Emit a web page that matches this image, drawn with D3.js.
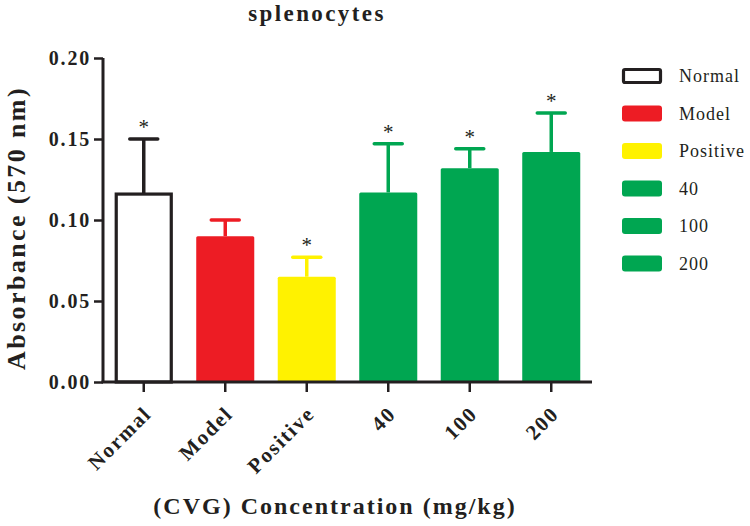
<!DOCTYPE html>
<html>
<head>
<meta charset="utf-8">
<script src="https://cdn.jsdelivr.net/npm/d3@7"></script>
<style>
  html, body { margin: 0; padding: 0; background: #fff; }
  svg { display: block; font-family: "Liberation Serif", "Times New Roman", serif; }
</style>
</head>
<body>
<svg id="chart" width="750" height="526"></svg>
<script>
const categories = ["Normal", "Model", "Positive", "40", "100", "200"];
const means = [0.116, 0.090, 0.065, 0.117, 0.132, 0.142];
const errUpper = [0.150, 0.100, 0.077, 0.147, 0.144, 0.166];
const significant = [true, false, true, true, true, true];
const fills = ["#ffffff", "#ED1C24", "#FFF200", "#00A651", "#00A651", "#00A651"];
const errColors = ["#231f20", "#ED1C24", "#FFF200", "#00A651", "#00A651", "#00A651"];
const yTicks = [0.00, 0.05, 0.10, 0.15, 0.20];
const chartTitle = "splenocytes";
const yTitle = "Absorbance (570 nm)";
const xTitle = "(CVG) Concentration (mg/kg)";

(function () {
const svg = d3.select("#chart");
const ink = "#231f20";
const mLeft = 103, mRight = 592, mTop = 58, mBottom = 382;

const x = d3.scaleBand().domain(categories).range([mLeft, mRight])
  .paddingInner(0.288).paddingOuter(0.144);
const y = d3.scaleLinear().domain([0, 0.20]).range([mBottom, mTop]);

// Title
svg.append("text").attr("x", 317).attr("y", 21)
  .attr("text-anchor", "middle").attr("font-size", 23).attr("font-weight", "bold")
  .attr("letter-spacing", 2.4).attr("fill", ink).text(chartTitle);

const data = categories.map((c, i) => ({c, v: means[i], e: errUpper[i], s: significant[i], i}));
const g = svg.append("g");

// error bars
data.forEach(d => {
  const cx = x(d.c) + x.bandwidth() / 2;
  g.append("line").attr("x1", cx).attr("x2", cx).attr("y1", y(d.v)).attr("y2", y(d.e))
    .attr("stroke", errColors[d.i]).attr("stroke-width", 3.5);
  g.append("line").attr("x1", cx - 14).attr("x2", cx + 14).attr("y1", y(d.e)).attr("y2", y(d.e))
    .attr("stroke", errColors[d.i]).attr("stroke-width", 3.5).attr("stroke-linecap", "round");
  if (d.s) {
    g.append("text").attr("x", cx).attr("y", y(d.e) - 5)
      .attr("text-anchor", "middle").attr("font-size", 21).attr("fill", ink).text("*");
  }
});

// bars
data.forEach(d => {
  const isOutline = d.i === 0;
  const inset = isOutline ? 1.5 : 0;
  g.append("rect")
    .attr("x", x(d.c) + inset).attr("width", x.bandwidth() - 2 * inset)
    .attr("y", y(d.v)).attr("height", y(0) - y(d.v))
    .attr("fill", fills[d.i])
    .attr("stroke", isOutline ? ink : "none")
    .attr("stroke-width", isOutline ? 3.2 : 0)
    .attr("rx", isOutline ? 0 : 1.5);
});

// Y axis
const yAxis = svg.append("g").attr("transform", `translate(${mLeft},0)`)
  .call(d3.axisLeft(y).tickValues(yTicks).tickFormat(d3.format(".2f")).tickSize(9).tickPadding(3));
yAxis.select(".domain").attr("d", `M0,${mTop}H0V${mBottom}`).attr("stroke", ink).attr("stroke-width", 3);
yAxis.selectAll(".tick line").attr("stroke", ink).attr("stroke-width", 2.5);
yAxis.selectAll(".tick text").attr("font-size", 20).attr("font-weight", "bold")
  .attr("letter-spacing", 1.8).attr("fill", ink).attr("font-family", "Liberation Serif, serif");

// X axis
const xAxis = svg.append("g").attr("transform", `translate(0,${mBottom})`)
  .call(d3.axisBottom(x).tickSize(10).tickSizeOuter(0));
xAxis.select(".domain").attr("d", `M${mLeft - 1.5},0H${mRight}`).attr("stroke", ink).attr("stroke-width", 3);
xAxis.selectAll(".tick line").attr("stroke", ink).attr("stroke-width", 2.5);
xAxis.selectAll(".tick text")
  .attr("font-size", 21).attr("font-weight", "bold").attr("letter-spacing", 1.8)
  .attr("fill", ink).attr("font-family", "Liberation Serif, serif")
  .attr("text-anchor", "end").attr("dy", null).attr("y", 0)
  .attr("transform", "translate(9,33) rotate(-45)");

// Axis titles
svg.append("text")
  .attr("transform", "translate(25,228) rotate(-90)")
  .attr("text-anchor", "middle").attr("font-size", 26).attr("font-weight", "bold")
  .attr("letter-spacing", 2.4).attr("fill", ink).text(yTitle);

svg.append("text").attr("x", 335).attr("y", 514)
  .attr("text-anchor", "middle").attr("font-size", 24).attr("font-weight", "bold")
  .attr("letter-spacing", 2).attr("fill", ink).text(xTitle);

// Legend
const legend = svg.append("g");
categories.forEach((c, i) => {
  const cy = 76 + i * 37.5;
  const isOutline = i === 0;
  legend.append("rect")
    .attr("x", isOutline ? 623.5 : 622).attr("y", cy - (isOutline ? 6.5 : 8))
    .attr("width", isOutline ? 37 : 40).attr("height", isOutline ? 13 : 16)
    .attr("rx", isOutline ? 1.5 : 3)
    .attr("fill", fills[i]).attr("stroke", isOutline ? ink : "none").attr("stroke-width", 3.2);
  legend.append("text").attr("x", 679).attr("y", cy + 6)
    .attr("font-size", 18).attr("letter-spacing", 1).attr("fill", ink).text(c);
});
})();
</script>
</body>
</html>
